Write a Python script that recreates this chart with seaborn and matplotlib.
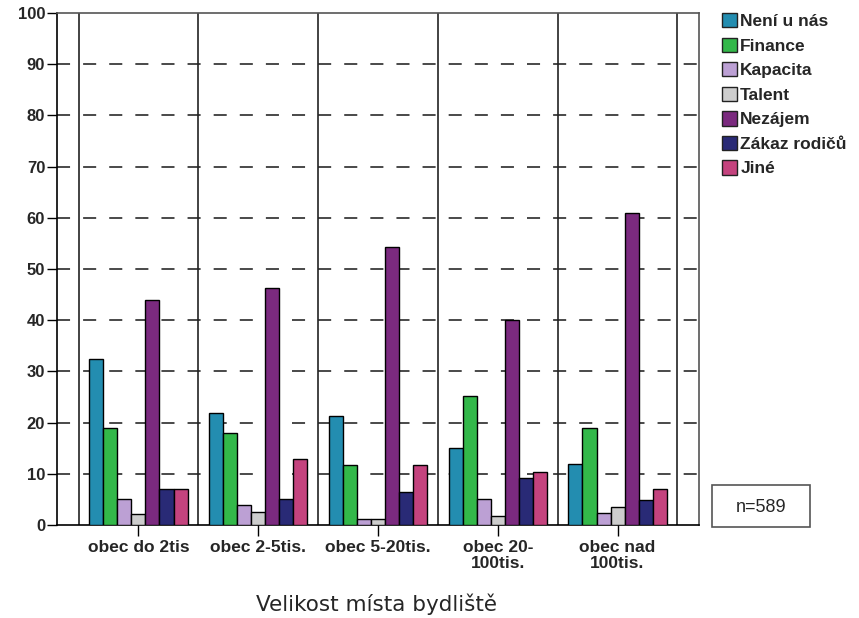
import matplotlib as mpl

mpl.use('Agg')
import matplotlib.pyplot as plt
import matplotlib.patches as mpatches
import seaborn as sns
import pandas as pd

# data (percent)
categories = ['obec do 2tis', 'obec 2-5tis.', 'obec 5-20tis.', 'obec 20-\n100tis.', 'obec nad\n100tis.']
reasons = ['Není u nás', 'Finance', 'Kapacita', 'Talent', 'Nezájem', 'Zákaz rodičů', 'Jiné']
neni_u_nas = [32.4, 21.8, 21.3, 15.0, 11.9]
finance = [19.0, 18.0, 11.7, 25.1, 19.0]
kapacita = [5.1, 3.9, 1.1, 5.1, 2.4]
talent = [2.1, 2.6, 1.1, 1.8, 3.6]
nezajem = [43.9, 46.3, 54.3, 40.0, 60.9]
zakaz_rodicu = [7.0, 5.1, 6.4, 9.2, 4.9]
jine = [7.0, 12.8, 11.7, 10.3, 7.0]
y_ticks = list(range(0, 101, 10))
n_label = 'n=589'

colors = ['#238db0', '#33b84a', '#bca0d4', '#cdcdcd', '#7b2a7f', '#292a76', '#c4437e']

series = [neni_u_nas, finance, kapacita, talent, nezajem, zakaz_rodicu, jine]
rows = []
for reason, vals in zip(reasons, series):
    for cat, v in zip(categories, vals):
        rows.append({'cat': cat, 'reason': reason, 'value': v})
df = pd.DataFrame(rows)

sns.set_style('white')
plt.rcParams['font.family'] = ['Liberation Sans', 'DejaVu Sans']
plt.rcParams['lines.scale_dashes'] = False

fig = plt.figure(figsize=(8.59, 6.18), dpi=100)
ax = fig.add_axes([57 / 859, 1 - 525 / 618, 642 / 859, 512 / 618])

sns.barplot(data=df, x='cat', y='value', hue='reason', order=categories,
            hue_order=reasons, palette=colors, width=0.82, edgecolor='black',
            linewidth=1.0, saturation=1, legend=False, ax=ax, zorder=3)

ax.set_xlim(-0.68, 4.68)
ax.set_ylim(0, 100)
ax.set_yticks(y_ticks)
ax.set_yticklabels([str(t) for t in y_ticks], fontsize=12, fontweight='bold')
ax.set_xticks(range(len(categories)))
ax.set_xticklabels(categories, fontsize=12.5, fontweight='bold', linespacing=1.15)
ax.tick_params(axis='y', direction='out', length=7, width=1, color='black',
               pad=1.5, left=True)
ax.tick_params(axis='x', direction='out', length=8, width=1, color='black',
               pad=2.5, bottom=True)

# dashed horizontal grid
for t in y_ticks[1:-1]:
    ax.axhline(t, color='#3a3a3a', lw=1.3, ls=(0, (9.4, 9.4)), zorder=1)
# category separators
for b in range(len(categories) + 1):
    ax.axvline(b - 0.5, color='#222222', lw=1.2, zorder=2)

for side in ['left', 'bottom']:
    ax.spines[side].set_color('black')
    ax.spines[side].set_linewidth(1.2)
for side in ['top', 'right']:
    ax.spines[side].set_color('#555555')
    ax.spines[side].set_linewidth(1.2)

ax.set_ylabel('')
ax.set_xlabel('')
fig.text(377 / 859, 1 - 604 / 618, 'Velikost místa bydliště', ha='center', va='center',
         fontsize=15.5, family='DejaVu Sans')

# legend
handles = [mpatches.Patch(facecolor=c, edgecolor='#222222', lw=1.0, label=r)
           for c, r in zip(colors, reasons)]
fig.legend(handles=handles, loc='upper left', bbox_to_anchor=(722 / 859, 1 - 13 / 618),
           frameon=False, prop={'size': 12.5, 'weight': 'bold'}, handlelength=0.85,
           handleheight=0.9, handletextpad=0.2, labelspacing=0.48, borderpad=0,
           borderaxespad=0)

# n box
fig.add_artist(mpatches.Rectangle((712 / 859, 1 - 527 / 618), 98 / 859, 42 / 618,
                                  transform=fig.transFigure, facecolor='white',
                                  edgecolor='#555555', lw=1.2))
fig.text(761 / 859, 1 - 507 / 618, n_label, ha='center', va='center', fontsize=13)

fig.savefig('out.png', dpi=100)
